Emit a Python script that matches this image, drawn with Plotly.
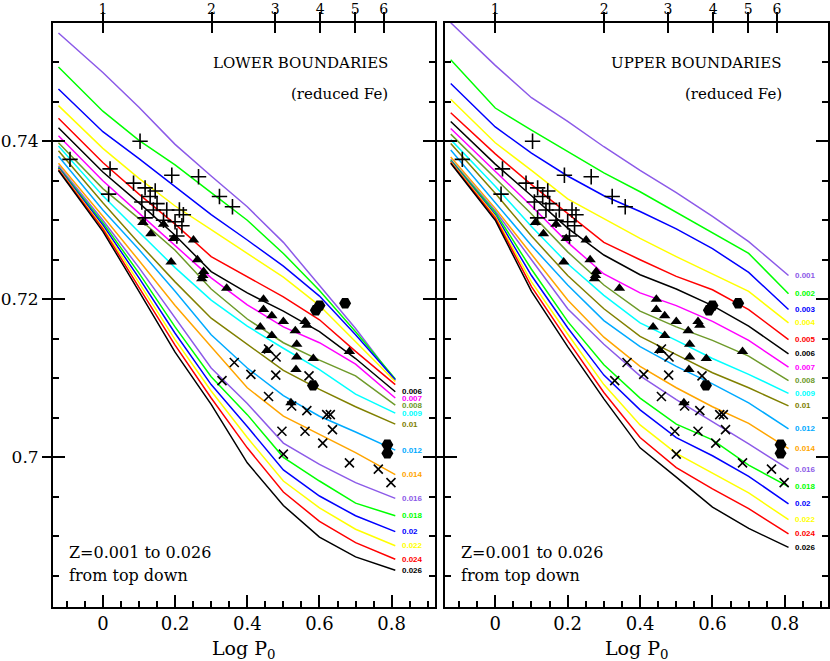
import numpy as np
import plotly.graph_objects as go

# ---------------- data ----------------
logp = [-0.123, 0.0, 0.1, 0.2, 0.3, 0.4, 0.5, 0.6, 0.7, 0.81]

z_vals = [0.001, 0.002, 0.003, 0.004, 0.005, 0.006, 0.007, 0.008, 0.009,
          0.01, 0.012, 0.014, 0.016, 0.018, 0.02, 0.022, 0.024, 0.026]
z_colors = ["#8c5ae8", "#00ff00", "#0000ff", "#ffff00", "#ff0000", "#000000",
            "#ff00ff", "#6e9a2a", "#00ffff", "#808000", "#00aaff", "#ffa500",
            "#8c5ae8", "#00ff00", "#0000ff", "#ffff00", "#ff0000", "#000000"]

lower_y = [
    [0.7537, 0.7487, 0.7443, 0.7396, 0.7356, 0.7317, 0.7272, 0.7218, 0.7163, 0.7097],
    [0.7494, 0.7438, 0.7401, 0.7370, 0.7335, 0.7300, 0.7258, 0.7211, 0.7159, 0.7099],
    [0.7466, 0.7412, 0.7378, 0.7343, 0.7307, 0.7275, 0.7242, 0.7204, 0.7155, 0.7098],
    [0.7445, 0.7391, 0.7353, 0.7318, 0.7288, 0.7258, 0.7228, 0.7192, 0.7146, 0.7096],
    [0.7429, 0.7373, 0.7333, 0.7295, 0.7254, 0.7228, 0.7203, 0.7174, 0.7134, 0.7092],
    [0.7417, 0.7361, 0.7322, 0.7281, 0.7235, 0.7208, 0.7185, 0.7159, 0.7125, 0.7083],
    [0.7407, 0.7350, 0.7309, 0.7268, 0.7227, 0.7193, 0.7165, 0.7145, 0.7118, 0.7075],
    [0.7398, 0.7340, 0.7302, 0.7262, 0.7213, 0.7175, 0.7145, 0.7123, 0.7103, 0.7066],
    [0.7394, 0.7331, 0.7285, 0.7240, 0.7199, 0.7166, 0.7138, 0.7111, 0.7080, 0.7056],
    [0.7388, 0.7322, 0.7271, 0.7222, 0.7176, 0.7143, 0.7110, 0.7086, 0.7064, 0.7042],
    [0.7381, 0.7313, 0.7263, 0.7210, 0.7155, 0.7113, 0.7078, 0.7052, 0.7032, 0.7009],
    [0.7372, 0.7305, 0.7249, 0.7192, 0.7140, 0.7088, 0.7052, 0.7029, 0.7006, 0.6978],
    [0.7369, 0.7300, 0.7240, 0.7176, 0.7113, 0.7068, 0.7018, 0.6991, 0.6968, 0.6948],
    [0.7367, 0.7297, 0.7233, 0.7165, 0.7102, 0.7054, 0.7000, 0.6970, 0.6942, 0.6926],
    [0.7366, 0.7294, 0.7227, 0.7157, 0.7092, 0.7039, 0.6984, 0.6951, 0.6926, 0.6906],
    [0.7365, 0.7291, 0.7221, 0.7149, 0.7084, 0.7025, 0.6970, 0.6936, 0.6909, 0.6888],
    [0.7364, 0.7289, 0.7215, 0.7142, 0.7075, 0.7012, 0.6956, 0.6919, 0.6892, 0.6871],
    [0.7363, 0.7286, 0.7210, 0.7133, 0.7067, 0.6993, 0.6939, 0.6899, 0.6874, 0.6857],
]

upper_y = [
    [0.7550, 0.7496, 0.7455, 0.7425, 0.7393, 0.7363, 0.7335, 0.7305, 0.7273, 0.7230],
    [0.7503, 0.7442, 0.7414, 0.7387, 0.7360, 0.7336, 0.7310, 0.7285, 0.7258, 0.7207],
    [0.7473, 0.7418, 0.7385, 0.7356, 0.7331, 0.7311, 0.7289, 0.7264, 0.7234, 0.7187],
    [0.7453, 0.7398, 0.7363, 0.7327, 0.7302, 0.7277, 0.7254, 0.7232, 0.7210, 0.7170],
    [0.7436, 0.7384, 0.7345, 0.7309, 0.7272, 0.7250, 0.7229, 0.7212, 0.7187, 0.7149],
    [0.7425, 0.7371, 0.7331, 0.7290, 0.7256, 0.7231, 0.7213, 0.7192, 0.7166, 0.7131],
    [0.7416, 0.7362, 0.7318, 0.7272, 0.7232, 0.7208, 0.7192, 0.7172, 0.7148, 0.7114],
    [0.7409, 0.7353, 0.7308, 0.7260, 0.7218, 0.7185, 0.7165, 0.7148, 0.7128, 0.7097],
    [0.7402, 0.7343, 0.7292, 0.7245, 0.7205, 0.7170, 0.7148, 0.7125, 0.7105, 0.7081],
    [0.7397, 0.7334, 0.7280, 0.7230, 0.7188, 0.7153, 0.7130, 0.7107, 0.7088, 0.7065],
    [0.7389, 0.7322, 0.7268, 0.7218, 0.7173, 0.7140, 0.7115, 0.7093, 0.7069, 0.7036],
    [0.7380, 0.7315, 0.7257, 0.7199, 0.7152, 0.7115, 0.7088, 0.7064, 0.7043, 0.7011],
    [0.7377, 0.7312, 0.7250, 0.7188, 0.7143, 0.7103, 0.7073, 0.7045, 0.7017, 0.6985],
    [0.7376, 0.7310, 0.7238, 0.7172, 0.7117, 0.7075, 0.7042, 0.7022, 0.6990, 0.6963],
    [0.7375, 0.7307, 0.7230, 0.7164, 0.7104, 0.7060, 0.7025, 0.7002, 0.6976, 0.6941],
    [0.7374, 0.7305, 0.7222, 0.7156, 0.7092, 0.7041, 0.7005, 0.6980, 0.6955, 0.6921],
    [0.7373, 0.7303, 0.7216, 0.7148, 0.7082, 0.7025, 0.6987, 0.6960, 0.6935, 0.6903],
    [0.7372, 0.7300, 0.7210, 0.7140, 0.7074, 0.7012, 0.6975, 0.6937, 0.6910, 0.6886],
]

plus_x = [-0.091, 0.020, 0.016, 0.103, 0.085, 0.117, 0.145, 0.131, 0.108, 0.150,
          0.140, 0.177, 0.212, 0.223, 0.200, 0.219, 0.168, 0.117, 0.205, 0.191,
          0.265, 0.323, 0.359]
plus_y = [0.7377, 0.7365, 0.7333, 0.7400, 0.7347, 0.7341, 0.7337, 0.7330, 0.7323, 0.7321,
          0.7313, 0.7313, 0.7313, 0.7307, 0.7298, 0.7293, 0.7300, 0.7303, 0.7280, 0.7357,
          0.7355, 0.7330, 0.7317]

tri_x = [0.111, 0.168, 0.133, 0.196, 0.251, 0.189, 0.262, 0.279, 0.277, 0.274,
         0.343, 0.445, 0.445, 0.468, 0.500, 0.560, 0.565, 0.436, 0.533, 0.468,
         0.683, 0.537, 0.454, 0.537, 0.583, 0.535, 0.521]
tri_y = [0.7297, 0.7295, 0.7283, 0.7277, 0.7275, 0.7247, 0.7250, 0.7235, 0.7230, 0.7226,
         0.7214, 0.7200, 0.7187, 0.7179, 0.7172, 0.7172, 0.7167, 0.7165, 0.7160, 0.7154,
         0.7134, 0.7143, 0.7135, 0.7127, 0.7125, 0.7111, 0.7069]

cross_x = [0.364, 0.480, 0.459, 0.330, 0.410, 0.479, 0.571, 0.459, 0.523, 0.565,
           0.620, 0.630, 0.636, 0.496, 0.560, 0.500, 0.609, 0.683, 0.763, 0.798]
cross_y = [0.7120, 0.7127, 0.7137, 0.7097, 0.7105, 0.7104, 0.7103, 0.7077, 0.7065, 0.7059,
           0.7054, 0.7054, 0.7035, 0.7033, 0.7033, 0.7004, 0.7018, 0.6993, 0.6985, 0.6968]

hex_x = [0.590, 0.600, 0.671, 0.582, 0.788, 0.788]
hex_y = [0.7186, 0.7192, 0.7195, 0.7091, 0.7016, 0.7005]

period_ticks = [1, 2, 3, 4, 5, 6]

panel_titles = ["LOWER BOUNDARIES", "UPPER BOUNDARIES"]
subtitle = "(reduced Fe)"
note_lines = ["Z=0.001 to 0.026", "from top down"]
first_labelled_z = [0.006, 0.001]   # left panel labels only from Z=0.006

# ---------------- layout constants ----------------
XR = [-0.138, 0.920]
YR = [0.6811, 0.7550]
YDOM = [0.0822, 0.9657]
XDOMS = [[0.0639, 0.5241], [0.5365, 0.9980]]
SERIF = "DejaVu Serif"

fig = go.Figure()

panels = [("x", "y", lower_y), ("x2", "y2", upper_y)]
for p, (xa, ya, ydata) in enumerate(panels):
    for z, col, yy in zip(z_vals, z_colors, ydata):
        fig.add_trace(go.Scatter(x=logp, y=yy, mode="lines", xaxis=xa, yaxis=ya,
                                 line=dict(color=col, width=1.5), showlegend=False,
                                 hoverinfo="skip"))
    fig.add_trace(go.Scatter(x=plus_x, y=plus_y, mode="markers", xaxis=xa, yaxis=ya,
                             marker=dict(symbol="cross-thin", size=11, color="black",
                                         line=dict(width=1.6, color="black")),
                             showlegend=False))
    fig.add_trace(go.Scatter(x=tri_x, y=tri_y, mode="markers", xaxis=xa, yaxis=ya,
                             marker=dict(symbol="triangle-up", size=10, color="black"),
                             showlegend=False))
    fig.add_trace(go.Scatter(x=cross_x, y=cross_y, mode="markers", xaxis=xa, yaxis=ya,
                             marker=dict(symbol="x-thin", size=9, color="black",
                                         line=dict(width=1.6, color="black")),
                             showlegend=False))
    fig.add_trace(go.Scatter(x=hex_x, y=hex_y, mode="markers", xaxis=xa, yaxis=ya,
                             marker=dict(symbol="hexagon2", size=12, color="black"),
                             showlegend=False))

# invisible anchor traces so that the overlaid tick axes get drawn
overlay_pairs = [("x3", "y"), ("x4", "y"), ("x7", "y"), ("x", "y3"),
                 ("x5", "y2"), ("x6", "y2"), ("x8", "y2"), ("x2", "y4")]
for xa, ya in overlay_pairs:
    fig.add_trace(go.Scatter(x=[logp[0]], y=[lower_y[0][0]], mode="markers",
                             xaxis=xa, yaxis=ya, marker=dict(opacity=0),
                             showlegend=False, hoverinfo="skip"))

layout = dict(width=830, height=661, autosize=False,
              margin=dict(l=0, r=0, t=0, b=0, pad=0, autoexpand=False),
              paper_bgcolor="white", plot_bgcolor="white", showlegend=False)

tick_font = dict(family=SERIF, size=18, color="black")
ytick_font = dict(family=SERIF, size=17, color="black")
top_vals = list(np.log10(period_ticks))
top_text = [str(p) for p in period_ticks]

ax_ids = [("xaxis", "yaxis", "x", "y", "xaxis3", "xaxis4", "xaxis7", "yaxis3"),
          ("xaxis2", "yaxis2", "x2", "y2", "xaxis5", "xaxis6", "xaxis8", "yaxis4")]
for p, (xk, yk, xn, yn, xt1, xt2, xt3, yo) in enumerate(ax_ids):
    layout[xk] = dict(domain=XDOMS[p], range=XR, anchor=yn, showgrid=False, zeroline=False,
                      showline=True, linewidth=2, linecolor="black", mirror=True,
                      automargin=False,
                      ticks="inside", ticklen=12, tickwidth=1.5, tickcolor="black",
                      tick0=0, dtick=0.2, tickfont=tick_font,
                      minor=dict(ticks="inside", ticklen=6, tickwidth=1.5,
                                 tickcolor="black", dtick=0.05, tick0=0, showgrid=False))
    layout[yk] = dict(domain=YDOM, range=YR, anchor=xn, showgrid=False, zeroline=False,
                      showline=True, linewidth=2, linecolor="black", mirror="ticks",
                      automargin=False,
                      ticks="inside", ticklen=12, tickwidth=1.5, tickcolor="black",
                      tick0=0.7, dtick=0.02, showticklabels=False,
                      minor=dict(ticks="inside", ticklen=6, tickwidth=1.5,
                                 tickcolor="black", dtick=0.005, tick0=0.7, showgrid=False))
    layout[yo] = dict(overlaying=yn, anchor=xn, side="left", range=YR, showgrid=False,
                      zeroline=False, showline=False, ticks="outside", ticklen=10,
                      automargin=False,
                      tickwidth=1.5, tickcolor="black", tick0=0.7, dtick=0.02,
                      showticklabels=(p == 0), tickfont=ytick_font)
    # period labels (short hidden ticks so the labels sit just above the tick marks)
    layout[xt1] = dict(overlaying=xn, anchor=yn, side="top", range=XR, showgrid=False,
                       zeroline=False, showline=False, ticks="outside", ticklen=2,
                       tickcolor="rgba(0,0,0,0)", tickwidth=1,
                       automargin=False, tickmode="array",
                       tickvals=top_vals, ticktext=top_text,
                       tickfont=dict(family=SERIF, size=14, color="black"))
    # inside half of the period ticks
    layout[xt2] = dict(overlaying=xn, anchor=yn, side="top", range=XR, showgrid=False,
                       zeroline=False, showline=False, ticks="inside", ticklen=10,
                       automargin=False,
                       tickwidth=1.5, tickcolor="black", tickmode="array",
                       tickvals=top_vals, showticklabels=False)
    # outside half of the period ticks
    layout[xt3] = dict(overlaying=xn, anchor=yn, side="top", range=XR, showgrid=False,
                       zeroline=False, showline=False, ticks="outside", ticklen=10,
                       automargin=False,
                       tickwidth=1.5, tickcolor="black", tickmode="array",
                       tickvals=top_vals, showticklabels=False)

fig.update_layout(**layout)

ann = []
for p, (xn, yn) in enumerate([("x", "y"), ("x2", "y2")]):
    xd, yd = xn + " domain", yn + " domain"
    ann.append(dict(text=panel_titles[p], xref=xd, yref=yd, x=0.883, y=0.931,
                    xanchor="right", yanchor="middle", showarrow=False,
                    font=dict(family=SERIF, size=15, color="black")))
    ann.append(dict(text=subtitle, xref=xd, yref=yd, x=0.883, y=0.878,
                    xanchor="right", yanchor="middle", showarrow=False,
                    font=dict(family=SERIF, size=15, color="black")))
    ann.append(dict(text=note_lines[0], xref=xd, yref=yd, x=0.037, y=0.093,
                    xanchor="left", yanchor="middle", showarrow=False,
                    font=dict(family=SERIF, size=16, color="black")))
    ann.append(dict(text=note_lines[1], xref=xd, yref=yd, x=0.037, y=0.054,
                    xanchor="left", yanchor="middle", showarrow=False,
                    font=dict(family=SERIF, size=16, color="black")))
    ann.append(dict(text="Log P<sub>0</sub>", xref=xd, yref="paper", x=0.5, y=0.017,
                    xanchor="center", yanchor="middle", showarrow=False,
                    font=dict(family=SERIF, size=19, color="black")))
    ydata = lower_y if p == 0 else upper_y
    for z, col, yy in zip(z_vals, z_colors, ydata):
        if z < first_labelled_z[p] - 1e-9:
            continue
        ann.append(dict(text="<b>%g</b>" % z, xref=xn, yref=yn, x=logp[-1] + 0.012, y=yy[-1],
                        xanchor="left", yanchor="middle", showarrow=False,
                        font=dict(family="Liberation Sans", size=8, color=col)))

fig.update_layout(annotations=ann)
fig.write_html("out.html", config={"displayModeBar": False},
               post_script="document.body.style.margin='0';")
